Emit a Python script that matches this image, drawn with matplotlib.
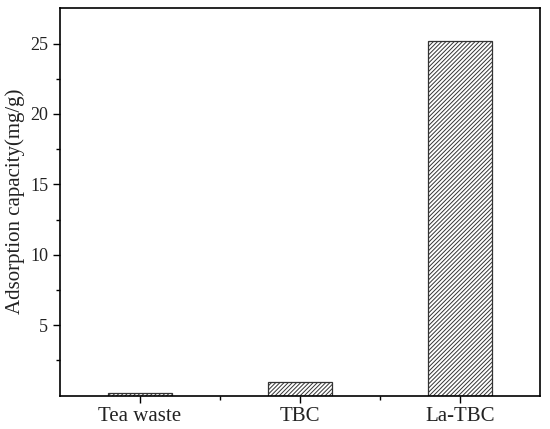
import numpy as np
import matplotlib
matplotlib.use('Agg')
import matplotlib.pyplot as plt
from matplotlib.ticker import FixedLocator

# Data
categories = ['Tea waste', 'TBC', 'La-TBC']
capacity = [0.2, 0.97, 25.18]

plt.rcParams['font.family'] = 'Liberation Serif'
plt.rcParams['hatch.color'] = '#8c8c8c'
plt.rcParams['hatch.linewidth'] = 0.7

fig = plt.figure(figsize=(5.5, 4.29), dpi=100)
ax = fig.add_axes([60 / 550, 1 - 395.6 / 429, 480 / 550, 388 / 429])

x = np.arange(len(categories))
ax.bar(x, capacity, width=0.4, color='white', edgecolor='#333333',
       linewidth=0.9, hatch='////////')

ax.set_xlim(-0.5, 2.5)
ax.set_ylim(0, 27.55)
ax.set_xticks(x)
ax.set_xticklabels(categories)
ax.xaxis.set_minor_locator(FixedLocator([0.5, 1.5]))
ax.set_yticks([5, 10, 15, 20, 25])
ax.yaxis.set_minor_locator(FixedLocator([2.5, 7.5, 12.5, 17.5, 22.5]))
ax.tick_params(axis='both', which='major', labelsize=13, length=5, width=1,
               labelcolor='#222222')
ax.tick_params(axis='x', which='major', labelsize=15)
ax.tick_params(axis='both', which='minor', length=3, width=1)
ax.set_ylabel('Adsorption capacity(mg/g)', fontsize=15, color='#222222')

for s in ax.spines.values():
    s.set_linewidth(1.2)

fig.savefig('out.png', dpi=100)
